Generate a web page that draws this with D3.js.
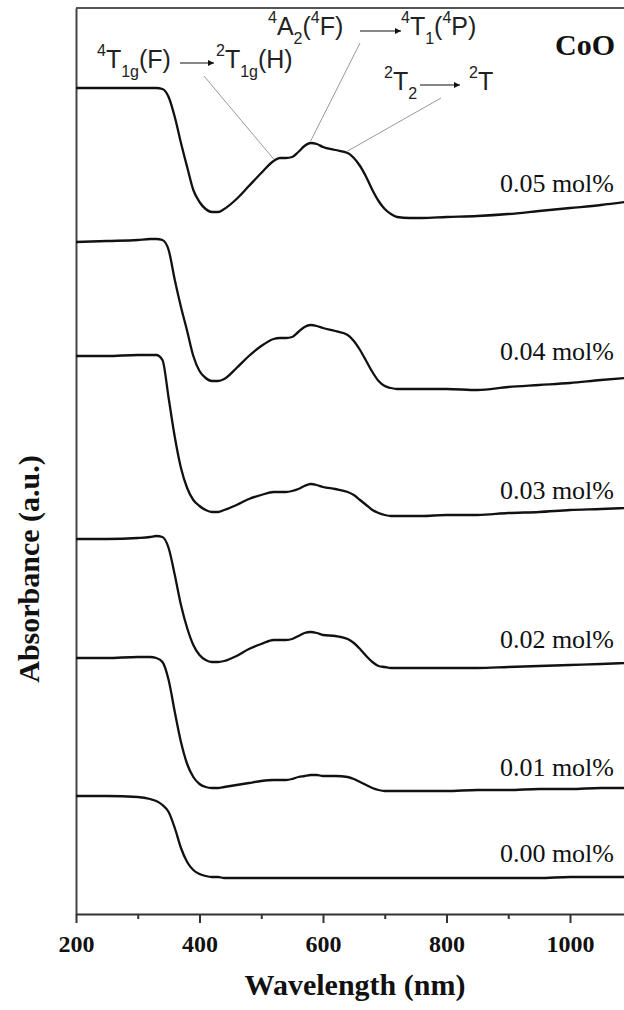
<!DOCTYPE html>
<html>
<head>
<meta charset="utf-8">
<script src="https://cdn.jsdelivr.net/npm/d3@7"></script>
<style>
  body { margin: 0; background: #fff; }
  svg { display: block; }
</style>
</head>
<body>
<svg id="chart"></svg>
<script>
// wavelength grid (nm) shared by all spectra
const wavelengths = [200, 250, 300, 320, 330, 340, 350, 360, 370, 380, 390, 400, 410, 420, 430, 440,
  460, 480, 500, 520, 530, 540, 550, 560, 570, 580, 590, 600, 620, 640, 650, 660, 670, 680, 690, 700,
  710, 720, 740, 760, 800, 850, 900, 950, 1000, 1050, 1090]

// stacked absorbance (a.u.)
const abs005 = [8.26, 8.26, 8.26, 8.26, 8.26, 8.25, 8.17, 7.97, 7.71, 7.47, 7.24, 7.12, 7.05, 7.02, 7.02, 7.05,
  7.15, 7.28, 7.41, 7.53, 7.56, 7.56, 7.57, 7.62, 7.68, 7.71, 7.70, 7.67, 7.64, 7.61, 7.56, 7.48, 7.37, 7.24, 7.13, 7.05,
  7.00, 6.97, 6.96, 6.96, 6.97, 6.98, 7.00, 7.03, 7.06, 7.09, 7.12]
const abs004 = [6.72, 6.73, 6.74, 6.75, 6.75, 6.74, 6.64, 6.34, 6.07, 5.83, 5.58, 5.43, 5.36, 5.33, 5.33, 5.35,
  5.46, 5.58, 5.68, 5.75, 5.76, 5.76, 5.77, 5.82, 5.87, 5.89, 5.88, 5.86, 5.83, 5.79, 5.73, 5.64, 5.53, 5.42, 5.33, 5.28,
  5.26, 5.25, 5.25, 5.25, 5.25, 5.24, 5.27, 5.29, 5.31, 5.34, 5.36]
const abs003 = [5.58, 5.58, 5.59, 5.59, 5.59, 5.54, 5.16, 4.77, 4.46, 4.26, 4.14, 4.08, 4.04, 4.02, 4.02, 4.04,
  4.09, 4.15, 4.19, 4.22, 4.22, 4.22, 4.23, 4.25, 4.28, 4.30, 4.29, 4.27, 4.25, 4.22, 4.19, 4.14, 4.09, 4.04, 4.01, 3.99,
  3.98, 3.98, 3.98, 3.98, 3.99, 3.99, 4.01, 4.02, 4.04, 4.05, 4.06]
const abs002 = [3.75, 3.75, 3.76, 3.77, 3.78, 3.77, 3.66, 3.39, 3.09, 2.86, 2.69, 2.59, 2.54, 2.52, 2.52, 2.53,
  2.58, 2.65, 2.70, 2.74, 2.74, 2.74, 2.75, 2.78, 2.81, 2.82, 2.81, 2.79, 2.78, 2.75, 2.71, 2.65, 2.58, 2.52, 2.48, 2.47,
  2.46, 2.46, 2.46, 2.46, 2.46, 2.46, 2.47, 2.48, 2.49, 2.50, 2.51]
const abs001 = [2.56, 2.56, 2.57, 2.57, 2.56, 2.52, 2.34, 2.02, 1.72, 1.50, 1.37, 1.30, 1.27, 1.26, 1.26, 1.27,
  1.29, 1.31, 1.33, 1.34, 1.34, 1.34, 1.35, 1.37, 1.38, 1.39, 1.39, 1.38, 1.38, 1.37, 1.35, 1.32, 1.29, 1.26, 1.24, 1.23,
  1.23, 1.23, 1.23, 1.23, 1.23, 1.24, 1.24, 1.25, 1.25, 1.26, 1.26]
const abs000 = [1.18, 1.18, 1.17, 1.15, 1.13, 1.09, 1.02, 0.86, 0.66, 0.52, 0.44, 0.40, 0.38, 0.37, 0.37, 0.36,
  0.36, 0.36, 0.36, 0.36, 0.36, 0.36, 0.36, 0.36, 0.36, 0.36, 0.36, 0.36, 0.36, 0.36, 0.36, 0.36, 0.36, 0.36, 0.36, 0.36,
  0.36, 0.36, 0.36, 0.36, 0.36, 0.36, 0.36, 0.36, 0.37, 0.37, 0.37]

const seriesLabels = ['0.05 mol%', '0.04 mol%', '0.03 mol%', '0.02 mol%', '0.01 mol%', '0.00 mol%']
const seriesValues = [abs005, abs004, abs003, abs002, abs001, abs000]

const xMajorTicks = [200, 400, 600, 800, 1000]
const xMinorTicks = [300, 500, 700, 900]

// peaks pointed at on the top spectrum
const bandWavelengths = [520, 580, 640]

const width = 624, height = 1010
const plotLeft = 76, plotTop = 8, plotBottom = 914
const serif = '"Liberation Serif", "Times New Roman", serif'
const sans = '"Liberation Sans", Arial, sans-serif'

const svg = d3.select('#chart')
  .attr('width', width)
  .attr('height', height)
  .style('font-family', serif)

const xScale = d3.scaleLinear()
  .domain([200, 1100])
  .range([plotLeft, plotLeft + 900 * 0.6175])

const yScale = d3.scaleLinear()
  .domain([0, 9.06])
  .range([plotBottom, plotTop])

// frame
svg.append('line')
  .attr('x1', plotLeft).attr('x2', width)
  .attr('y1', yScale(9.06)).attr('y2', yScale(9.06))
  .attr('stroke', '#555').attr('stroke-width', 2)

svg.append('g')
  .attr('transform', `translate(${plotLeft},0)`)
  .call(d3.axisLeft(yScale).tickValues([]).tickSizeOuter(0))
  .call(g => g.select('.domain').attr('stroke', '#444').attr('stroke-width', 2))

let xAxis = svg.append('g')
  .attr('transform', `translate(0,${plotBottom})`)
  .call(d3.axisBottom(xScale).tickValues(xMajorTicks).tickFormat(d3.format('d'))
    .tickSize(9).tickSizeOuter(0).tickPadding(12))
xAxis.select('.domain').attr('stroke', '#333').attr('stroke-width', 2)
xAxis.selectAll('.tick line').attr('stroke', '#333').attr('stroke-width', 2)
xAxis.selectAll('.tick text')
  .attr('fill', '#111')
  .style('font-family', serif)
  .style('font-size', '24px')
  .style('font-weight', 'bold')

svg.append('g')
  .attr('transform', `translate(0,${plotBottom})`)
  .call(d3.axisBottom(xScale).tickValues(xMinorTicks).tickSize(5).tickFormat(''))
  .call(g => g.select('.domain').remove())
  .call(g => g.selectAll('.tick line').attr('stroke', '#333').attr('stroke-width', 2))

svg.append('text')
  .text('Wavelength (nm)')
  .attr('x', 355)
  .attr('y', 995)
  .attr('text-anchor', 'middle')
  .style('font-size', '30px')
  .style('font-weight', 'bold')
  .attr('fill', '#111')

svg.append('text')
  .text('Absorbance (a.u.)')
  .attr('transform', 'translate(39,569) rotate(-90)')
  .attr('text-anchor', 'middle')
  .style('font-size', '30px')
  .style('font-weight', 'bold')
  .attr('fill', '#111')

// spectra
let line = d3.line()
  .x((d, i) => xScale(wavelengths[i]))
  .y(d => yScale(d))
  .curve(d3.curveMonotoneX)

svg.append('g').selectAll('path')
  .data(seriesValues)
  .join('path')
  .attr('fill', 'none')
  .attr('stroke', '#111')
  .attr('stroke-width', 2.3)
  .attr('stroke-linejoin', 'round')
  .attr('d', d => line(d))

let labelY = [192, 360, 499, 648, 776, 862]
svg.append('g').selectAll('text')
  .data(seriesLabels)
  .join('text')
  .text(d => d)
  .attr('x', 614)
  .attr('y', (d, i) => labelY[i])
  .attr('text-anchor', 'end')
  .style('font-size', '26px')
  .attr('fill', '#111')

svg.append('text')
  .text('CoO')
  .attr('x', 615)
  .attr('y', 55)
  .attr('text-anchor', 'end')
  .style('font-size', '30px')
  .style('font-weight', 'bold')
  .attr('fill', '#111')

// transition labels
svg.append('defs').append('marker')
  .attr('id', 'arrow')
  .attr('viewBox', '0 0 10 10')
  .attr('refX', 10).attr('refY', 5)
  .attr('markerWidth', 9).attr('markerHeight', 6)
  .attr('markerUnits', 'userSpaceOnUse')
  .attr('orient', 'auto')
  .append('path')
  .attr('d', 'M0,0 L10,5 L0,10 z')
  .attr('fill', '#111')

let terms = [
  { x: 97, y: 68, parts: [['4', 'sup'], ['T', 'n'], ['1g', 'sub'], ['(F)', 'n']] },
  { x: 216, y: 68, parts: [['2', 'sup'], ['T', 'n'], ['1g', 'sub'], ['(H)', 'n']] },
  { x: 268, y: 35, parts: [['4', 'sup'], ['A', 'n'], ['2', 'sub'], ['(', 'n'], ['4', 'sup'], ['F)', 'n']] },
  { x: 401, y: 35, parts: [['4', 'sup'], ['T', 'n'], ['1', 'sub'], ['(', 'n'], ['4', 'sup'], ['P)', 'n']] },
  { x: 384, y: 90, parts: [['2', 'sup'], ['T', 'n'], ['2', 'sub']] },
  { x: 469, y: 90, parts: [['2', 'sup'], ['T', 'n']] }
]

let shifts = { n: 0, sup: -12, sub: 9 }
terms.forEach(t => {
  let txt = svg.append('text')
    .attr('x', t.x).attr('y', t.y)
    .style('font-family', sans)
    .style('font-size', '25px')
    .attr('fill', '#222')
  let cur = 0
  t.parts.forEach(([s, kind]) => {
    txt.append('tspan')
      .text(s)
      .attr('dy', shifts[kind] - cur)
      .style('font-size', kind == 'n' ? '25px' : '16px')
    cur = shifts[kind]
  })
})

let arrows = [[180, 214, 63], [360, 401, 31], [420, 460, 85]]
svg.append('g').selectAll('line')
  .data(arrows)
  .join('line')
  .attr('x1', d => d[0]).attr('x2', d => d[1])
  .attr('y1', d => d[2]).attr('y2', d => d[2])
  .attr('stroke', '#111')
  .attr('stroke-width', 1.2)
  .attr('marker-end', 'url(#arrow)')

// leader lines from the labels to the bands on the top curve
let leaderStart = [[204, 76], [360, 43], [441, 98]]
svg.append('g').selectAll('line')
  .data(bandWavelengths)
  .join('line')
  .attr('x1', (d, i) => leaderStart[i][0])
  .attr('y1', (d, i) => leaderStart[i][1])
  .attr('x2', d => xScale(d))
  .attr('y2', d => yScale(abs005[wavelengths.indexOf(d)]) - 2)
  .attr('stroke', '#999')
  .attr('stroke-width', 1)
</script>
</body>
</html>
